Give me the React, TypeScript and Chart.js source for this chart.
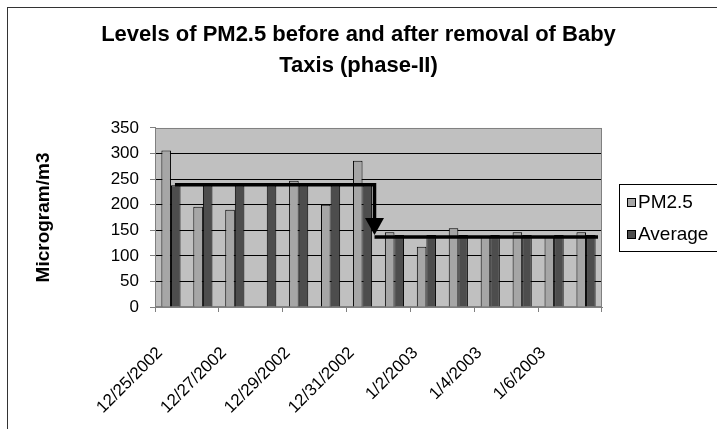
import React, { useEffect, useRef } from 'react';
import { Chart, registerables } from 'chart.js';

Chart.register(...registerables);

const FONT = "'Liberation Sans', Arial, Helvetica, sans-serif";

const categories = [
  '12/25/2002', '12/26/2002', '12/27/2002', '12/28/2002', '12/29/2002', '12/30/2002', '12/31/2002',
  '1/1/2003', '1/2/2003', '1/3/2003', '1/4/2003', '1/5/2003', '1/6/2003', '1/7/2003',
];
const pm25: (number | null)[] = [306, 196, 190, null, 247, 200, 286, 146, 118, 154, 139, 146, 139, 146];
const average = [238, 238, 238, 238, 238, 238, 238, 141, 141, 141, 141, 141, 141, 141];
const seriesNames = ['PM2.5', 'Average'];
const seriesColors = ['#A6A6A6', '#4D4D4D'];
// levels (µg/m3) of the drawn step arrow: before / after removal
const stepLevels = [239, 137];
// category positions (fractional index) of the step arrow: start, drop, end
const stepPositions = [0.125, 6.375, 13.375];
const yMax = 350;
const yStep = 50;
const titleLines = ['Levels of PM2.5 before and after removal of Baby', 'Taxis (phase-II)'];
const yTitle = 'Microgram/m3';

const decor = {
  id: 'decor',
  beforeDraw(chart: any) {
    const { ctx, chartArea: a, width, height } = chart;
    ctx.save();
    ctx.fillStyle = '#ffffff';
    ctx.fillRect(0, 0, width, height);
    ctx.strokeStyle = '#333333';
    ctx.lineWidth = 1;
    ctx.strokeRect(7.5, 7.5, width + 20, height + 20);
    ctx.fillStyle = '#C0C0C0';
    ctx.fillRect(a.left, a.top, a.right - a.left, a.bottom - a.top);
    ctx.restore();
  },
  beforeDatasetsDraw(chart: any) {
    const { ctx, chartArea: a } = chart;
    ctx.save();
    ctx.strokeStyle = '#808080';
    ctx.lineWidth = 1;
    ctx.strokeRect(a.left + 0.5, a.top + 0.5, a.right - a.left - 1, a.bottom - a.top - 1);
    ctx.restore();
  },
  afterDatasetsDraw(chart: any) {
    const { ctx } = chart;
    const xs = chart.scales.x;
    const ys = chart.scales.y;
    const x0 = xs.getPixelForValue(stepPositions[0]);
    const xb = xs.getPixelForValue(stepPositions[1]);
    const x1 = xs.getPixelForValue(stepPositions[2]);
    const yb = ys.getPixelForValue(stepLevels[0]);
    const ya = ys.getPixelForValue(stepLevels[1]);
    const headH = 17;
    const headW = 19;
    const tip = ya - 2;
    ctx.save();
    ctx.strokeStyle = '#000';
    ctx.fillStyle = '#000';
    ctx.lineWidth = 3.5;
    ctx.lineJoin = 'miter';
    ctx.lineCap = 'butt';
    ctx.beginPath();
    ctx.moveTo(x0, yb);
    ctx.lineTo(xb, yb);
    ctx.lineTo(xb, tip - headH + 1);
    ctx.stroke();
    ctx.beginPath();
    ctx.moveTo(xb, ya);
    ctx.lineTo(x1, ya);
    ctx.stroke();
    ctx.beginPath();
    ctx.moveTo(xb - headW / 2, tip - headH);
    ctx.lineTo(xb + headW / 2, tip - headH);
    ctx.lineTo(xb, tip);
    ctx.closePath();
    ctx.fill();
    ctx.restore();
  },
  afterDraw(chart: any) {
    const { ctx, chartArea: a, width } = chart;
    const cy = (a.top + a.bottom) / 2 + 1;
    const left = a.right + 17;
    ctx.save();
    ctx.strokeStyle = '#000';
    ctx.lineWidth = 1;
    ctx.strokeRect(left + 0.5, Math.round(cy - 34) + 0.5, width, 67);
    ctx.font = `19px ${FONT}`;
    ctx.textBaseline = 'middle';
    ctx.textAlign = 'left';
    chart.data.datasets.forEach((ds: any, i: number) => {
      const rowY = Math.round(cy - 16 + i * 32);
      ctx.fillStyle = ds.backgroundColor;
      ctx.fillRect(left + 8, rowY - 4, 9, 9);
      ctx.strokeStyle = '#000';
      ctx.strokeRect(left + 8.5, rowY - 3.5, 8, 8);
      ctx.fillStyle = '#000';
      ctx.fillText(ds.label, left + 19, rowY + 1);
    });
    ctx.restore();
  },
};

export default function App() {
  const ref = useRef<HTMLCanvasElement | null>(null);
  useEffect(() => {
    if (!ref.current) return;
    const chart = new Chart(ref.current, {
      type: 'bar',
      data: {
        labels: categories,
        datasets: [
          {
            label: seriesNames[0],
            data: pm25,
            backgroundColor: seriesColors[0],
            borderColor: '#000',
            borderWidth: 1,
            categoryPercentage: 0.6,
            barPercentage: 1,
          },
          {
            label: seriesNames[1],
            data: average,
            backgroundColor: seriesColors[1],
            borderColor: '#000',
            borderWidth: 1,
            categoryPercentage: 0.6,
            barPercentage: 1,
          },
        ],
      },
      options: {
        responsive: false,
        animation: false,
        devicePixelRatio: 1,
        layout: { padding: 0 },
        plugins: {
          legend: { display: false },
          tooltip: { enabled: false },
          title: {
            display: true,
            text: titleLines,
            color: '#000',
            font: { family: FONT, size: 22, weight: 'bold', lineHeight: 1.386 },
            padding: { top: 20, bottom: 47 },
          },
        },
        scales: {
          x: {
            offset: true,
            grid: {
              offset: true,
              drawOnChartArea: false,
              drawTicks: true,
              tickLength: 5,
              color: '#808080',
              tickColor: (c: any) =>
                c.index === undefined || c.index % 2 === 0 ? '#808080' : 'rgba(0,0,0,0)',
            },
            border: { display: true, color: '#808080' },
            ticks: {
              autoSkip: false,
              minRotation: 45,
              maxRotation: 45,
              padding: 31,
              labelOffset: -11,
              color: '#000',
              font: { family: FONT, size: 17 },
              callback: (_v: any, i: number) => (i % 2 === 0 ? categories[i] : ''),
            },
            afterFit: (s: any) => {
              s.height = 122;
            },
          },
          y: {
            min: 0,
            max: yMax,
            ticks: {
              stepSize: yStep,
              padding: 11,
              color: '#000',
              font: { family: FONT, size: 17 },
            },
            grid: {
              color: (c: any) =>
                c.tick && c.tick.value > 0 && c.tick.value < yMax ? '#000' : 'rgba(0,0,0,0)',
              tickColor: '#808080',
              tickLength: 5,
            },
            border: { display: true, color: '#808080' },
            title: {
              display: true,
              text: yTitle,
              color: '#000',
              font: { family: FONT, size: 19, weight: 'bold' },
              padding: { top: 32, bottom: 0 },
            },
            afterFit: (s: any) => {
              s.width = 155;
            },
          },
          legendSpace: {
            type: 'linear',
            position: 'right',
            display: true,
            grid: { display: false, drawTicks: false },
            border: { display: false },
            ticks: { display: false },
            afterFit: (s: any) => {
              s.width = 115;
            },
          },
        },
      } as any,
      plugins: [decor],
    });
    return () => chart.destroy();
  }, []);
  return (
    <div style={{ position: 'absolute', left: 0, top: 0, width: 717, height: 429 }}>
      <canvas ref={ref} width={717} height={429} style={{ display: 'block' }} />
    </div>
  );
}
